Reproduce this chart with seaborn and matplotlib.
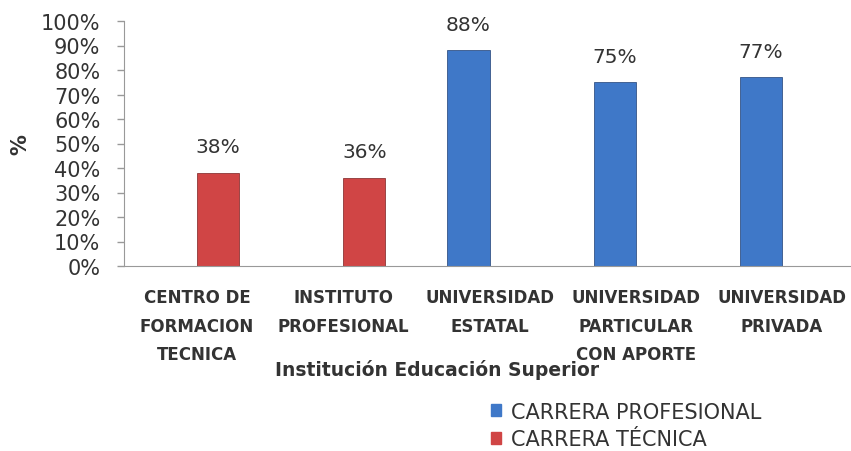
import pandas as pd
import matplotlib.pyplot as plt
import seaborn as sns

# data
instituciones = ["CENTRO DE\nFORMACION\nTECNICA", "INSTITUTO\nPROFESIONAL",
                 "UNIVERSIDAD\nESTATAL", "UNIVERSIDAD\nPARTICULAR\nCON APORTE",
                 "UNIVERSIDAD\nPRIVADA"]
series = ["CARRERA PROFESIONAL", "CARRERA TÉCNICA"]
profesional = [None, None, 88, 75, 77]
tecnica = [38, 36, None, None, None]
colors = ["#3f78c8", "#d04545"]

rows = []
for i, inst in enumerate(instituciones):
    if profesional[i] is not None:
        rows.append({"inst": inst, "serie": series[0], "valor": profesional[i]})
    if tecnica[i] is not None:
        rows.append({"inst": inst, "serie": series[1], "valor": tecnica[i]})
df = pd.DataFrame(rows)

sns.set_style("white")
plt.rcParams["font.family"] = ["DejaVu Sans"]

fig = plt.figure(figsize=(8.51, 4.52), dpi=100)
ax = fig.add_axes([124 / 851, 185 / 452, 731 / 851, 245 / 452])

sns.barplot(data=df, x="inst", y="valor", hue="serie", order=instituciones,
            hue_order=series, palette=colors, saturation=1, width=0.575, dodge=True,
            linewidth=0.5, legend=False, ax=ax)
# darker outline per series
for cont, ec in zip(ax.containers, ["#1f3f73", "#7a2020"]):
    for bar in cont:
        bar.set_edgecolor(ec)

for cont in ax.containers:
    labels = [f"{v:.0f}%" for v in cont.datavalues]
    ax.bar_label(cont, labels=labels, padding=12, fontsize=14.5, color="#333333")

ax.set_ylim(0, 100)
ax.set_xlim(-0.5, 4.5)
ax.set_yticks(range(0, 101, 10))
ax.set_yticklabels([f"{t}%" for t in range(0, 101, 10)], fontsize=15, color="#333333")
ax.tick_params(axis="y", length=5, width=1, color="#999999", direction="out", left=True, pad=12)
ax.tick_params(axis="x", length=0, pad=16)
for lab in ax.get_xticklabels():
    lab.set_family(["Liberation Sans Narrow", "DejaVu Sans"])
    lab.set_fontsize(12)
    lab.set_fontweight("bold")
    lab.set_color("#333333")
    lab.set_linespacing(1.75)

for s in ["top", "right"]:
    ax.spines[s].set_visible(False)
ax.spines["left"].set_color("#999999")
ax.spines["bottom"].set_color("#999999")

ax.set_ylabel("%", fontsize=15, fontweight="bold", color="#333333")
ax.yaxis.set_label_coords(-0.128, 0.5)
ax.set_xlabel("Institución Educación Superior", fontsize=13.5, fontweight="bold", color="#333333")
ax.xaxis.set_label_coords((437 - 124) / 731, -(360 - 267) / 245)

handles = [plt.Rectangle((0, 0), 1, 1, color=c) for c in colors]
fig.legend(handles, series, loc="upper left", bbox_to_anchor=(472 / 851, 1 - 384 / 452),
           frameon=False, fontsize=15, handlelength=0.5, handleheight=0.5,
           handletextpad=0.45, labelspacing=0.35, labelcolor="#333333")

fig.savefig("out.png", dpi=100)
